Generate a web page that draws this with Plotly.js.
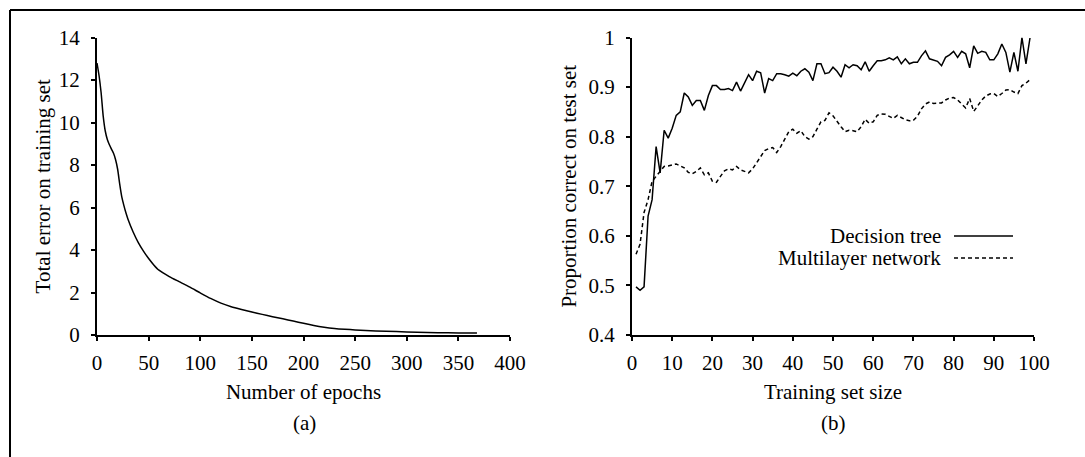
<!DOCTYPE html>
<html>
<head>
<meta charset="utf-8">
<script src="https://cdn.plot.ly/plotly-3.0.1.min.js"></script>
<style>
html,body{margin:0;padding:0;background:#fff;}
#chart{width:1085px;height:457px;}
</style>
</head>
<body>
<div id="chart"></div>
<script>
// Panel (a): total error on training set vs epochs
const epochs = [0,2,4,6,8,10,12,14,16,18,20,22,24,26,28,30,35,40,45,50,55,60,70,80,90,100,110,120,130,140,150,160,170,180,190,200,210,220,230,240,250,270,290,310,330,350,368];
const totalError = [12.8,12.2,11.4,10.3,9.6,9.2,8.95,8.75,8.55,8.25,7.8,7.1,6.5,6.1,5.75,5.45,4.85,4.35,3.95,3.6,3.3,3.05,2.75,2.5,2.25,1.98,1.72,1.5,1.33,1.2,1.08,0.97,0.86,0.76,0.66,0.55,0.45,0.37,0.31,0.27,0.24,0.19,0.16,0.13,0.11,0.1,0.09];

// Panel (b): proportion correct on test set vs training set size
const trainingSize = [];
for (let i = 1; i <= 99; i++) trainingSize.push(i);
const decisionTree = [0.497,0.49,0.497,0.64,0.673,0.78,0.727,0.813,0.797,0.817,
0.843,0.85,0.888,0.88,0.863,0.873,0.873,0.853,0.883,0.903,
0.903,0.895,0.895,0.897,0.893,0.91,0.892,0.91,0.925,0.913,
0.932,0.929,0.888,0.917,0.913,0.927,0.927,0.925,0.922,0.928,
0.923,0.932,0.937,0.93,0.913,0.947,0.947,0.927,0.929,0.94,
0.932,0.92,0.945,0.939,0.945,0.943,0.935,0.951,0.932,0.943,
0.953,0.953,0.955,0.959,0.955,0.961,0.947,0.957,0.947,0.95,
0.95,0.963,0.973,0.957,0.955,0.952,0.943,0.96,0.965,0.972,
0.96,0.972,0.967,0.939,0.983,0.968,0.972,0.97,0.955,0.955,
0.967,0.987,0.97,0.93,0.97,0.932,1.0,0.947,0.999];
const multilayerNet = [0.563,0.583,0.647,0.673,0.71,0.72,0.73,0.74,0.741,0.743,
0.745,0.741,0.737,0.728,0.725,0.73,0.737,0.723,0.727,0.71,
0.708,0.72,0.731,0.735,0.733,0.74,0.733,0.73,0.727,0.735,
0.747,0.76,0.772,0.776,0.778,0.768,0.78,0.795,0.81,0.815,
0.807,0.812,0.8,0.795,0.8,0.815,0.83,0.833,0.848,0.842,
0.83,0.82,0.81,0.813,0.812,0.81,0.82,0.835,0.827,0.83,
0.843,0.846,0.845,0.841,0.837,0.843,0.838,0.834,0.832,0.833,
0.841,0.856,0.866,0.87,0.867,0.868,0.868,0.874,0.878,0.879,
0.874,0.866,0.858,0.877,0.851,0.862,0.874,0.882,0.886,0.887,
0.881,0.887,0.894,0.895,0.89,0.887,0.903,0.908,0.915];

const seriesNames = ['Decision tree', 'Multilayer network'];

const FONT = {family: '"Liberation Serif", "Times New Roman", serif', size: 21, color: '#000'};

const W = 1085, H = 457;
const px = v => v / W;
const py = v => 1 - v / H;

const traces = [
  {x: epochs, y: totalError, xaxis: 'x', yaxis: 'y', mode: 'lines',
   line: {color: '#000', width: 1.5, shape: 'spline', smoothing: 0.6}, showlegend: false, hoverinfo: 'skip'},
  {x: trainingSize, y: decisionTree, xaxis: 'x2', yaxis: 'y2', mode: 'lines', name: seriesNames[0],
   line: {color: '#000', width: 1.5}, showlegend: false},
  {x: trainingSize, y: multilayerNet, xaxis: 'x2', yaxis: 'y2', mode: 'lines', name: seriesNames[1],
   line: {color: '#000', width: 1.5, dash: '4px,3px'}, showlegend: false}
];

function axisBase(extra) {
  return Object.assign({
    showline: true, linecolor: '#000', linewidth: 2,
    showgrid: false, zeroline: false,
    ticks: 'outside', ticklen: 4, tickwidth: 2, tickcolor: '#000',
    tickfont: FONT, fixedrange: true
  }, extra);
}

const yDom = [1 - 335 / H, 1 - 37.5 / H];

const layout = {
  width: W, height: H,
  margin: {l: 0, r: 0, t: 0, b: 0, pad: 0},
  paper_bgcolor: '#fff', plot_bgcolor: '#fff',
  font: FONT,
  showlegend: false,
  xaxis: axisBase({domain: [px(97), px(510)], range: [0, 400], tickvals: [0,50,100,150,200,250,300,350,400],
    anchor: 'y', ticklabelstandoff: 4,
    title: {text: 'Number of epochs', font: FONT, standoff: 10}}),
  yaxis: axisBase({domain: yDom, range: [0, 14], tickvals: [0,2,4,6,8,10,12,14],
    anchor: 'x', ticklabelstandoff: 7,
    title: {text: 'Total error on training set', font: FONT, standoff: 2}}),
  xaxis2: axisBase({domain: [px(632), px(1034)], range: [0, 100], tickvals: [0,10,20,30,40,50,60,70,80,90,100],
    anchor: 'y2', ticklabelstandoff: 4,
    title: {text: 'Training set size', font: FONT, standoff: 10}}),
  yaxis2: axisBase({domain: yDom, range: [0.4, 1], tickvals: [0.4,0.5,0.6,0.7,0.8,0.9,1],
    ticktext: ['0.4','0.5','0.6','0.7','0.8','0.9','1'],
    anchor: 'x2', ticklabelstandoff: 7,
    title: {text: 'Proportion correct on test set', font: FONT, standoff: 6}}),
  annotations: [
    {text: '(a)', xref: 'paper', yref: 'paper', x: px(304), y: py(423), showarrow: false, font: FONT, xanchor: 'center', yanchor: 'middle'},
    {text: '(b)', xref: 'paper', yref: 'paper', x: px(833), y: py(423), showarrow: false, font: FONT, xanchor: 'center', yanchor: 'middle'},
    {text: seriesNames[0], xref: 'paper', yref: 'paper', x: px(942), y: py(236), showarrow: false, font: FONT, xanchor: 'right', yanchor: 'middle', borderpad: 0},
    {text: seriesNames[1], xref: 'paper', yref: 'paper', x: px(942), y: py(258), showarrow: false, font: FONT, xanchor: 'right', yanchor: 'middle', borderpad: 0}
  ],
  shapes: [
    {type: 'line', xref: 'paper', yref: 'paper', x0: px(954), x1: px(1013), y0: py(236), y1: py(236), line: {color: '#000', width: 1.5}},
    {type: 'line', xref: 'paper', yref: 'paper', x0: px(954), x1: px(1013), y0: py(258), y1: py(258), line: {color: '#000', width: 1.5, dash: '4px,3px'}},
    {type: 'line', xref: 'paper', yref: 'paper', x0: px(10), x1: px(10), y0: py(10), y1: 0, line: {color: '#000', width: 2}},
    {type: 'line', xref: 'paper', yref: 'paper', x0: px(10), x1: 1, y0: py(10), y1: py(10), line: {color: '#000', width: 2}}
  ]
};

Plotly.newPlot('chart', traces, layout, {displayModeBar: false, staticPlot: true});
</script>
</body>
</html>
